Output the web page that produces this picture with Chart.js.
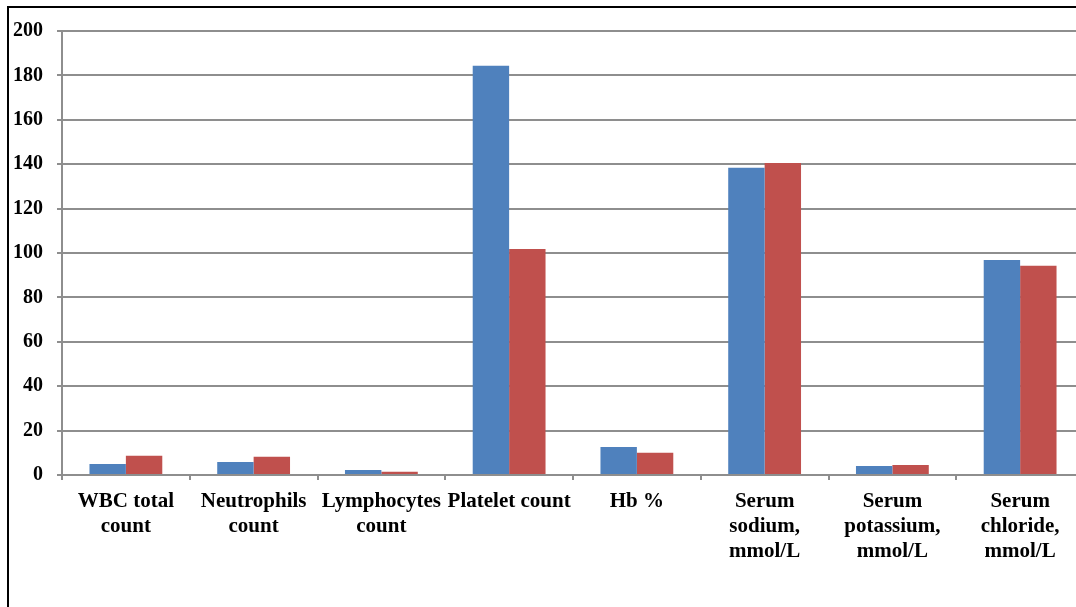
<!DOCTYPE html>
<html>
<head>
<meta charset="utf-8">
<script src="https://cdn.jsdelivr.net/npm/chart.js@4/dist/chart.umd.min.js"></script>
<style>
  html, body { margin: 0; padding: 0; background: #fff; width: 1076px; height: 607px; overflow: hidden; }
  #frame { position: absolute; left: 7px; top: 6px; width: 2000px; height: 2000px; border: 2px solid #000; box-sizing: border-box; }
  #wrap { position: absolute; left: 0; top: 0; width: 1092px; height: 607px; }
</style>
</head>
<body>
<div id="frame"></div>
<div id="wrap"><canvas id="c" width="1092" height="607"></canvas></div>
<script>
const categories = [
  ["WBC total", "count"],
  ["Neutrophils", "count"],
  ["Lymphocytes", "count"],
  ["Platelet count"],
  ["Hb %"],
  ["Serum", "sodium,", "mmol/L"],
  ["Serum", "potassium,", "mmol/L"],
  ["Serum", "chloride,", "mmol/L"]
];
const series1 = [5.0, 5.8, 2.2, 184.4, 12.6, 138.4, 4.0, 96.8];
const series2 = [8.7, 8.2, 1.5, 101.8, 10.0, 140.5, 4.5, 94.3];
const yTicks = { min: 0, max: 200, step: 20 };

const FONT = "'Liberation Serif', 'Times New Roman', serif";
const GRID = '#8e8e8e';

new Chart(document.getElementById('c'), {
  type: 'bar',
  data: {
    labels: categories,
    datasets: [
      { label: 'Series 1', data: series1, backgroundColor: '#4F81BD', borderWidth: 0, barPercentage: 1, categoryPercentage: 0.57 },
      { label: 'Series 2', data: series2, backgroundColor: '#C0504D', borderWidth: 0, barPercentage: 1, categoryPercentage: 0.57 }
    ]
  },
  options: {
    responsive: false,
    animation: false,
    events: [],
    layout: { padding: { left: 0, right: 8, top: 31, bottom: 0 } },
    plugins: { legend: { display: false }, tooltip: { enabled: false }, title: { display: false } },
    scales: {
      x: {
        grid: { display: true, drawOnChartArea: false, drawTicks: true, tickLength: 5, color: GRID, lineWidth: 2, offset: true },
        border: { display: true, color: GRID, width: 2 },
        ticks: {
          autoSkip: false, maxRotation: 0, minRotation: 0,
          color: '#000', padding: 9,
          font: { family: FONT, size: 21, weight: 'bold', lineHeight: 1.2 }
        },
        afterFit: (s) => { s.height = 132; }
      },
      y: {
        min: yTicks.min, max: yTicks.max,
        grid: { color: GRID, lineWidth: 2, tickLength: 5, drawTicks: true },
        border: { display: true, color: GRID, width: 2 },
        ticks: {
          stepSize: yTicks.step, color: '#000', padding: 14,
          font: { family: FONT, size: 20, weight: 'bold' }
        },
        afterFit: (s) => { s.width = 62; }
      }
    }
  }
});
</script>
</body>
</html>
